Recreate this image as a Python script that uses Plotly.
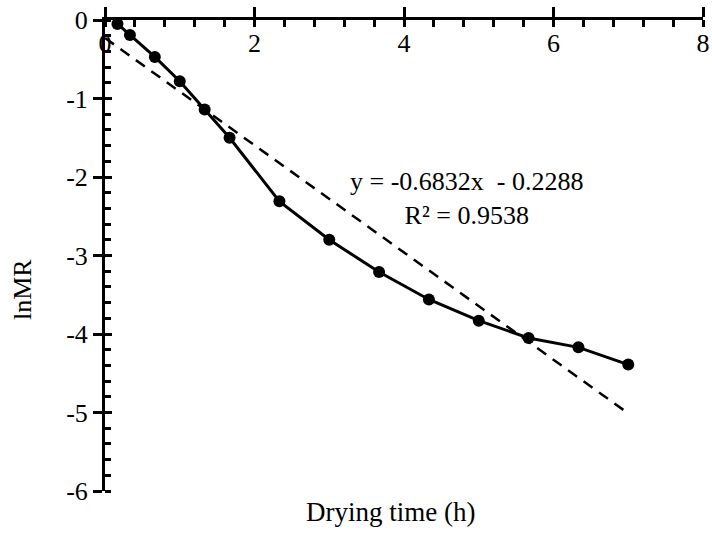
import plotly.graph_objects as go

# Data
time_h = [1/6, 1/3, 2/3, 1.0, 4/3, 5/3, 7/3, 3.0, 11/3, 13/3, 5.0, 17/3, 19/3, 7.0]
ln_mr = [-0.05, -0.19, -0.47, -0.78, -1.14, -1.50, -2.31, -2.80, -3.21, -3.56, -3.83, -4.05, -4.17, -4.39]

fit_slope = -0.6832
fit_intercept = -0.2288
fit_x = [0.0, 7.0]
fit_y = [fit_slope * v + fit_intercept for v in fit_x]

x_ticks = [0, 2, 4, 6, 8]
x_labels = ["0", "2", "4", "6", "8"]
y_ticks = [0, -1, -2, -3, -4, -5, -6]
y_labels = ["0", "-1", "-2", "-3", "-4", "-5", "-6"]

FONT = "Liberation Serif, Times New Roman, serif"
FS = 26
TICKFONT = dict(family=FONT, size=FS, color="black")

fig = go.Figure()
fig.add_trace(go.Scatter(x=fit_x, y=fit_y, mode="lines",
                         line=dict(color="black", width=2.5, dash="11px,8px"),
                         showlegend=False, hoverinfo="skip"))
fig.add_trace(go.Scatter(x=time_h, y=ln_mr, mode="lines+markers",
                         line=dict(color="black", width=3),
                         marker=dict(color="black", size=12),
                         showlegend=False))

fig.update_layout(
    width=712, height=533,
    margin=dict(l=105, r=9, t=20, b=42, autoexpand=False),
    paper_bgcolor="white", plot_bgcolor="white",
    font=dict(family=FONT, size=FS, color="black"),
    xaxis=dict(range=[0, 8], side="top", anchor="y", tickvals=x_ticks,
               ticktext=x_labels, tickfont=TICKFONT, automargin=False,
               ticks="outside", ticklen=10, tickwidth=2.5, tickcolor="black",
               ticklabelposition="inside", ticklabelstandoff=16,
               ticklabeloverflow="allow",
               showline=True, linewidth=3, linecolor="black",
               showgrid=False, zeroline=False,
               minor=dict(dtick=0.4, tick0=0, ticks="inside", ticklen=7,
                          tickwidth=2.5, tickcolor="black", showgrid=False)),
    xaxis2=dict(range=[0, 8], side="top", anchor="y", overlaying="x",
                tickvals=x_ticks, ticks="inside", ticklen=7, tickwidth=2.5,
                tickcolor="black", showticklabels=False, showline=False,
                showgrid=False, zeroline=False, automargin=False),
    yaxis=dict(range=[-6, 0], tickvals=y_ticks, ticktext=y_labels,
               tickfont=TICKFONT, ticklabeloverflow="allow", automargin=False,
               ticks="outside", ticklen=9, tickwidth=2.5, tickcolor="black",
               showline=True, linewidth=3, linecolor="black",
               showgrid=False, zeroline=False,
               minor=dict(dtick=0.2, tick0=0, ticks="inside", ticklen=6,
                          tickwidth=2.5, tickcolor="black", showgrid=False)),
    yaxis2=dict(range=[-6, 0], overlaying="y", anchor="x", side="left",
                tickvals=y_ticks, ticks="inside", ticklen=7, tickwidth=2.5,
                tickcolor="black", showticklabels=False, showline=False,
                showgrid=False, zeroline=False, automargin=False),
)

# invisible trace to activate overlay axes
fig.add_trace(go.Scatter(x=[None], y=[None], xaxis="x2", yaxis="y2",
                         showlegend=False, hoverinfo="skip"))

fig.add_annotation(text="y = -0.6832x  - 0.2288<br>R² = 0.9538",
                   xref="x", yref="y", x=4.83, y=-2.28, showarrow=False,
                   align="center", font=dict(family=FONT, size=FS))
fig.add_annotation(text="Drying time (h)", xref="paper", yref="paper",
                   x=(390 - 105) / (712 - 114), y=0, yshift=-21,
                   xanchor="center", yanchor="middle", showarrow=False,
                   font=dict(family=FONT, size=27))
fig.add_annotation(text="lnMR", textangle=-90, xref="paper", yref="paper",
                   x=0, xshift=-83, y=(491 - 290) / (491 - 20),
                   xanchor="center", yanchor="middle",
                   showarrow=False, font=dict(family=FONT, size=FS))

fig.write_html("out.html")
